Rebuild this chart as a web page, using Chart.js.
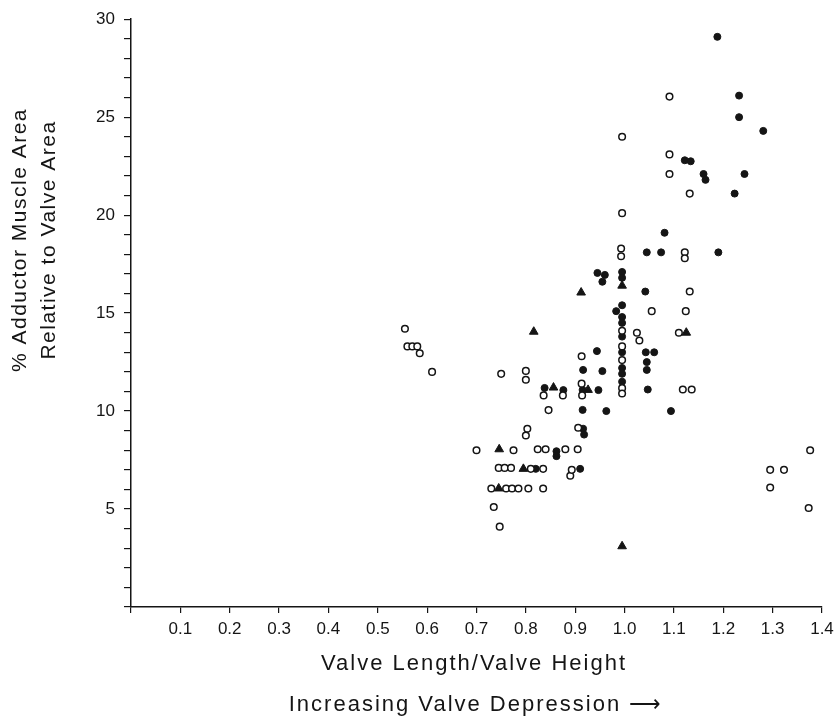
<!DOCTYPE html>
<html lang="en">
<head>
    <meta charset="UTF-8">
    <title>Adductor Muscle Area vs Valve Length/Height</title>
    <script src="https://cdn.jsdelivr.net/npm/chart.js"></script>
    <style>
        body { margin: 0; background: #fff; }
        #wrap { width: 835px; height: 717px; }
    </style>
</head>
<body>
    <div id="wrap">
        <canvas id="myChart" width="835" height="717"></canvas>
    </div>
    <script>
        // values: [valve length/height, % adductor area]
        const openCircles = [
            [0.555, 14.2], [0.56, 13.3], [0.57, 13.3], [0.58, 13.3], [0.585, 12.95], [0.61, 12.0],
            [0.75, 11.9], [0.80, 12.05], [0.80, 11.6], [0.836, 10.8], [0.875, 10.8], [0.846, 10.05],
            [0.803, 9.1], [0.80, 8.75], [0.913, 12.8], [0.913, 11.4], [0.914, 10.8], [0.906, 9.15],
            [0.70, 8.0], [0.775, 8.0], [0.824, 8.05], [0.84, 8.05], [0.88, 8.05], [0.905, 8.05],
            [0.745, 7.1], [0.757, 7.1], [0.77, 7.1], [0.81, 7.05], [0.835, 7.05], [0.89, 6.7], [0.893, 7.0],
            [0.73, 6.05], [0.76, 6.05], [0.772, 6.05], [0.785, 6.05], [0.805, 6.05], [0.835, 6.05],
            [0.735, 5.1], [0.747, 4.1],
            [0.995, 24.0], [0.995, 20.1], [0.993, 18.3], [0.993, 17.9],
            [0.995, 14.1], [0.995, 13.3], [0.995, 12.6], [0.995, 11.17], [0.995, 10.9],
            [1.025, 14.0], [1.03, 13.6], [1.055, 15.1], [1.124, 15.1], [1.132, 16.1],
            [1.122, 18.1], [1.122, 17.8], [1.091, 26.05], [1.091, 23.1], [1.091, 22.1], [1.132, 21.1],
            [1.118, 11.1], [1.136, 11.1], [1.11, 14.0],
            [1.376, 8.0], [1.295, 7.0], [1.323, 7.0], [1.295, 6.1], [1.373, 5.05]
        ];
        const filledCircles = [
            [1.188, 29.1], [1.232, 26.1], [1.232, 25.0], [1.281, 24.3], [1.122, 22.8], [1.134, 22.75],
            [1.16, 22.1], [1.164, 21.8], [1.243, 22.1], [1.223, 21.1],
            [1.081, 19.1], [1.045, 18.1], [1.074, 18.1], [1.19, 18.1],
            [0.945, 17.05], [0.96, 16.95], [0.955, 16.6], [0.995, 17.1], [0.995, 16.8], [1.042, 16.1],
            [0.983, 15.1], [0.995, 15.4], [0.995, 14.8], [0.995, 14.5], [0.995, 13.8], [0.995, 13.0],
            [0.995, 12.2], [0.995, 11.9], [0.995, 11.5],
            [1.043, 13.0], [1.06, 13.0], [1.045, 12.5], [1.045, 12.1], [1.047, 11.1], [1.094, 10.0],
            [0.944, 13.06], [0.955, 12.04], [0.947, 11.07], [0.963, 10.0],
            [0.916, 12.1], [0.915, 11.08], [0.915, 10.06], [0.916, 9.1], [0.918, 8.8],
            [0.838, 11.18], [0.876, 11.07], [0.862, 7.95], [0.862, 7.7], [0.82, 7.05], [0.91, 7.05]
        ];
        const triangles = [
            [0.816, 14.05], [0.912, 16.05], [0.856, 11.2], [0.926, 11.08], [0.746, 8.05],
            [0.795, 7.05], [0.745, 6.05], [0.995, 16.4], [1.125, 14.0], [0.995, 3.1]
        ];

        const xTitle = 'Valve Length/Valve Height';
        const xSubTitle = 'Increasing Valve Depression \u27F6';
        const yTitle = ['% Adductor Muscle Area', 'Relative to Valve Area'];

        const ink = '#151515';
        const toXY = pts => pts.map(p => ({ x: p[0], y: p[1] }));

        // axis titles sit at fixed spots, not centred on the axes
        const titlePlugin = {
            id: 'titles',
            afterDraw(chart) {
                const c = chart.ctx;
                c.save();
                c.fillStyle = ink;
                c.textAlign = 'center';
                c.textBaseline = 'middle';
                c.font = '22px "Liberation Sans", Arial, sans-serif';
                c.letterSpacing = '2px';
                c.fillText(xTitle, 474, 664);
                c.fillText(xSubTitle, 476, 705);
                c.font = '21px "Liberation Sans", Arial, sans-serif';
                c.letterSpacing = '1.5px';
                c.translate(20, 240);
                c.rotate(-Math.PI / 2);
                c.fillText(yTitle[0], 0, 0);
                c.fillText(yTitle[1], 0, 29);
                c.restore();
            }
        };

        const ctx = document.getElementById('myChart').getContext('2d');
        const myChart = new Chart(ctx, {
            type: 'scatter',
            data: {
                datasets: [{
                    label: 'open',
                    data: toXY(openCircles),
                    pointStyle: 'circle',
                    pointRadius: 3.3,
                    backgroundColor: '#fff',
                    borderColor: ink,
                    borderWidth: 1.5
                }, {
                    label: 'filled',
                    data: toXY(filledCircles),
                    pointStyle: 'circle',
                    pointRadius: 3.5,
                    backgroundColor: ink,
                    borderColor: ink,
                    borderWidth: 1
                }, {
                    label: 'triangle',
                    data: toXY(triangles),
                    pointStyle: 'triangle',
                    pointRadius: 5,
                    backgroundColor: ink,
                    borderColor: ink,
                    borderWidth: 1
                }]
            },
            options: {
                responsive: false,
                animation: false,
                layout: { padding: { top: 18, right: 0, left: 0, bottom: 0 } },
                plugins: {
                    legend: { display: false },
                    tooltip: { enabled: false }
                },
                scales: {
                    x: {
                        type: 'linear',
                        min: 0,
                        max: 1.4,
                        afterFit: s => {
                            s.height = 110;
                            s.paddingLeft = 0;
                            s.paddingRight = 13; // right end of the axis lands on 822px
                        },
                        border: { display: true, color: ink, width: 1.5 },
                        grid: { drawOnChartArea: false, drawTicks: true, tickLength: 6, color: ink, lineWidth: 1.2 },
                        ticks: {
                            stepSize: 0.1,
                            padding: 6,
                            color: ink,
                            font: { family: '"Liberation Sans", Arial, sans-serif', size: 17 },
                            maxRotation: 0,
                            autoSkip: false,
                            callback: v => (v < 0.05 ? '' : v.toFixed(1))
                        }
                    },
                    y: {
                        min: 0,
                        max: 30,
                        afterFit: s => { s.width = 131; },
                        border: { display: true, color: ink, width: 1.5 },
                        grid: { drawOnChartArea: false, drawTicks: true, tickLength: 7, color: ink, lineWidth: 1.2 },
                        ticks: {
                            stepSize: 1,
                            padding: 9,
                            color: ink,
                            autoSkip: false,
                            font: { family: '"Liberation Sans", Arial, sans-serif', size: 17 },
                            callback: v => (v > 0 && v % 5 === 0 ? String(v) : '')
                        }
                    }
                }
            },
            plugins: [titlePlugin]
        });
    </script>
</body>
</html>
